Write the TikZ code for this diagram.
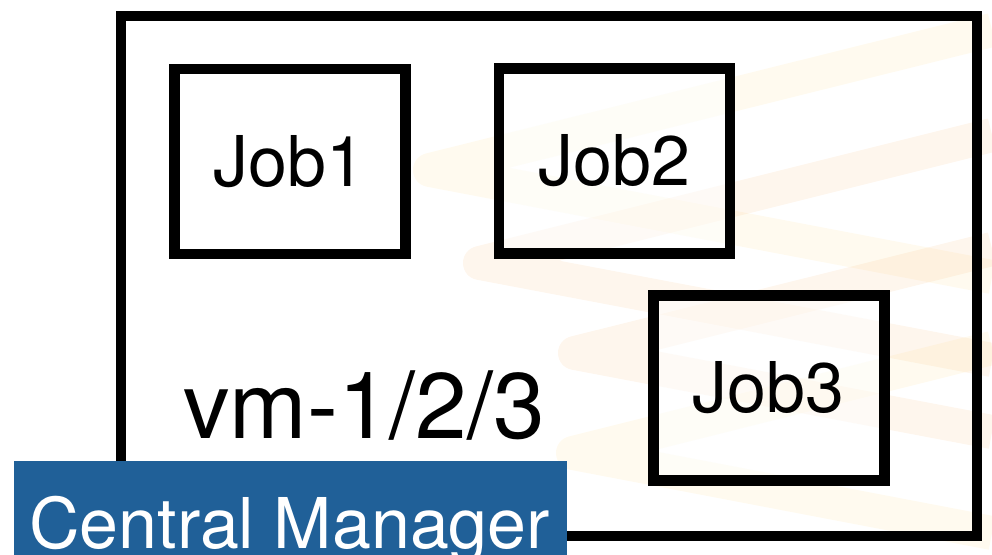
\documentclass[tikz,border=0pt]{standalone}
\usepackage{fontspec}
\setmainfont{TeX Gyre Heros}
\usetikzlibrary{positioning}
\definecolor{mgrblue}{RGB}{32,96,152}
\definecolor{stripeorange}{RGB}{246,170,90}
\definecolor{stripeyellow}{RGB}{252,214,110}
\tikzset{
  vmbox/.style={draw=black,line width=10.5pt,inner sep=0pt,minimum width=856pt,minimum height=520pt},
  jobbox/.style={draw=black,line width=10.5pt,fill=white,fill opacity=0.55,text opacity=1,inner sep=0pt,minimum width=231pt,minimum height=185pt,font=\fontsize{70}{84}\selectfont},
  vmtext/.style={inner sep=0pt,font=\fontsize{93}{110}\selectfont},
  mgrbox/.style={fill=mgrblue,inner sep=0pt,minimum width=553pt,minimum height=100pt},
  mgrtext/.style={inner sep=0pt,text=white,font=\fontsize{70}{84}\selectfont},
  stripe/.style={line width=34pt,opacity=0.11,line join=round}
}

\begin{document}
\begin{tikzpicture}[x=1pt,y=-1pt]
  \useasboundingbox (0,0) rectangle (992,554);
  % faint chevrons in the background
  \begin{scope}
    \clip (0,0) rectangle (992,554);
    \draw[stripe,stripeyellow] (992,30) -- (430,170) -- (992,277);
    \draw[stripe,stripeorange] (992,135) -- (480,263) -- (992,360);
    \draw[stripe,stripeorange] (992,249) -- (575,353) -- (992,432);
    \draw[stripe,stripeyellow] (992,348) -- (573,453) -- (992,533);
  \end{scope}

  \node[vmbox] (vm) at (548.85,276) {};
  \node[jobbox] (job1) at (289.75,161.5) {Job1};
  \node[jobbox] (job2) at (614.5,161) {Job2};
  \node[jobbox] (job3) at (768.75,387.75) {Job3};
  \node[vmtext,anchor=base west] (vmlabel) at (183,438.5) {vm-1/2/3};

  \node[mgrbox,anchor=north west] (mgr) at (13.4,460.7) {};
  \node[mgrtext,anchor=base west] (mgrlabel) at (29,548) {Central Manager};
\end{tikzpicture}
\end{document}
